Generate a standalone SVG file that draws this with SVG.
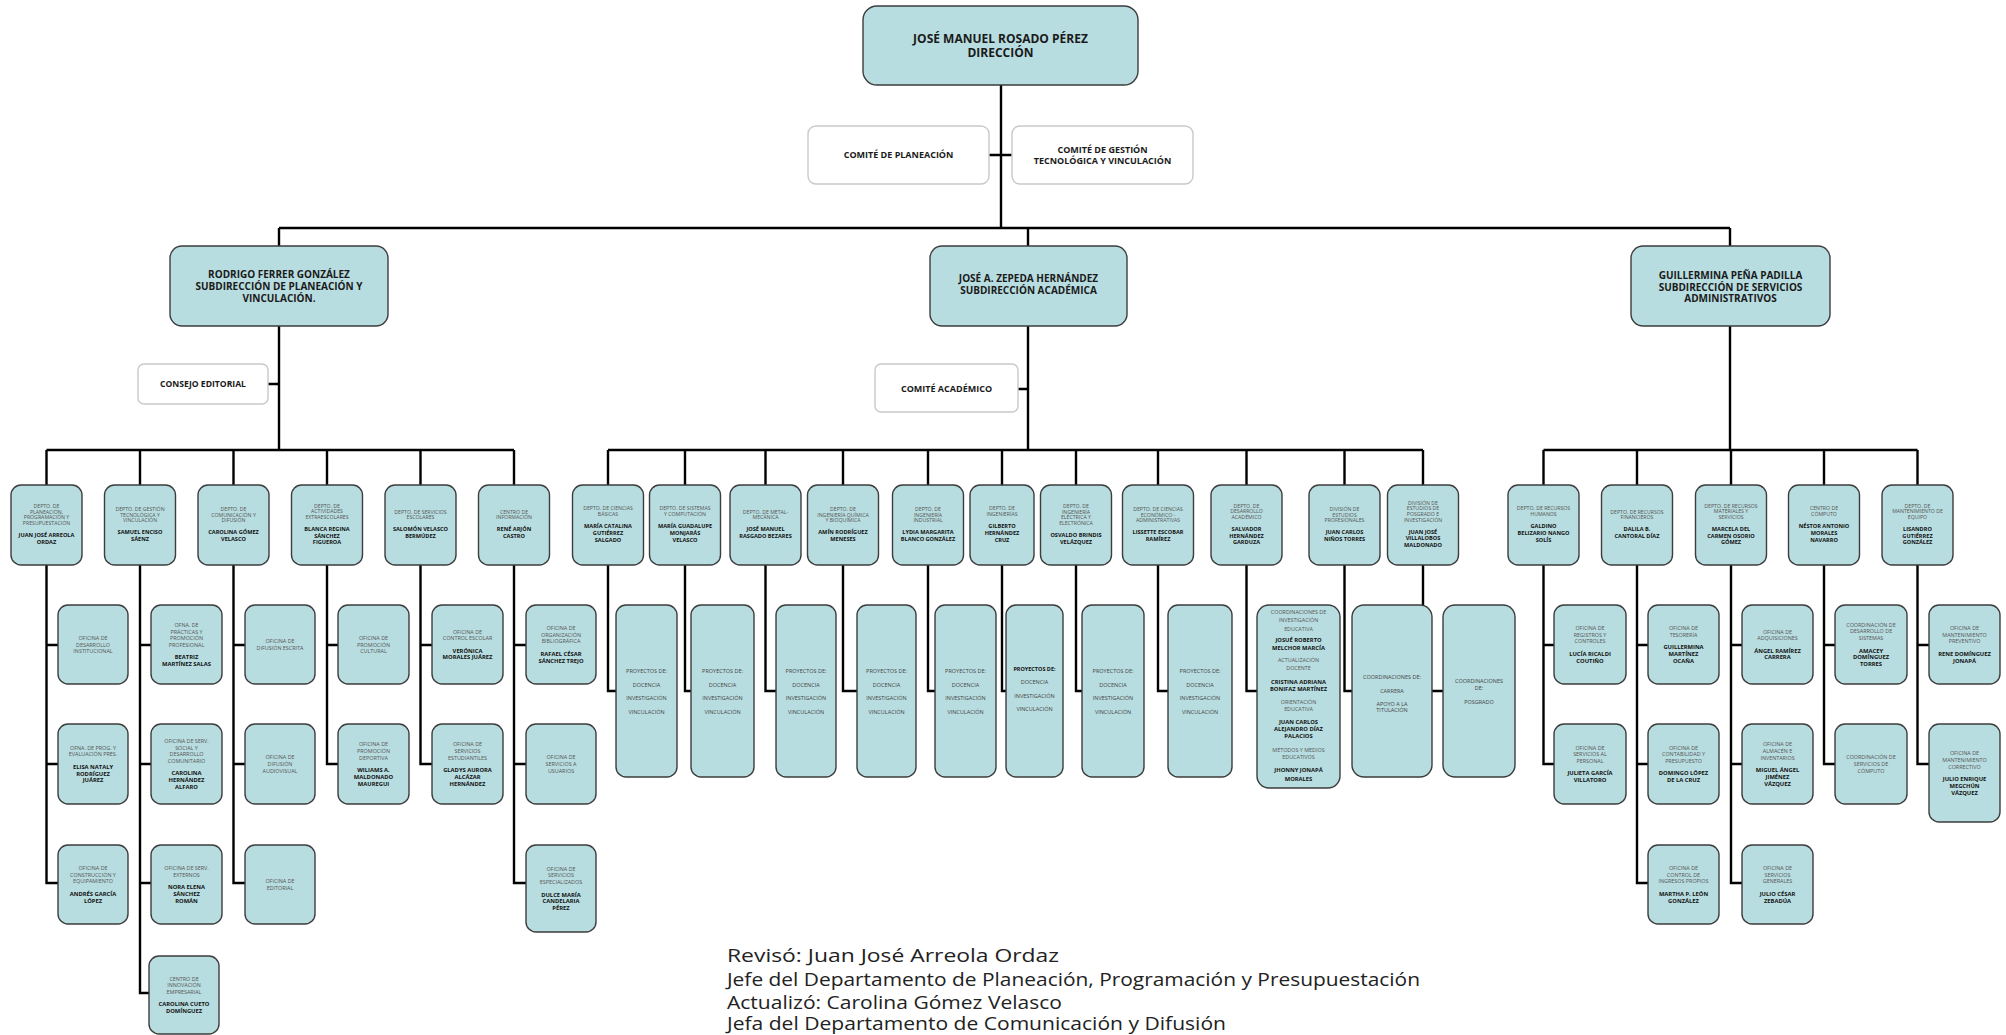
<svg xmlns="http://www.w3.org/2000/svg" width="2006" height="1035" viewBox="0 0 2006 1035">
<style>
.b{fill:#b8dde0;stroke:#3d3d3d;stroke-width:1.4}
.w{fill:#fff;stroke:#c9c9c9;stroke-width:1.4}
.k{fill:none;stroke:#000;stroke-width:2.4}
text{font-family:'Open Sans','Liberation Sans',sans-serif;text-anchor:middle}
.h{font-weight:700;fill:#1a1a1a}
.t{font-size:5.2px;fill:#555}
.n{font-size:5.6px;font-weight:700;fill:#111}
.s{font-size:5.4px;fill:#555}
.m{font-size:5.8px;font-weight:700;fill:#111}
.p{font-size:5.5px;fill:#444}
.f{font-size:18px;fill:#222;text-anchor:start}
</style>
<rect width="2006" height="1035" fill="#fff"/>
<g id="connectors" class="k">
<path d="M1001 85V228M989 155H1012M279 228H1730M279 228V246M1028 228V246M1730 228V246"/>
<path d="M279 326V450M268 384H279M1028 326V450M1018 389H1028M1730 326V450"/>
<path d="M46.5 450H514M46.5 450V485M140 450V485M233.5 450V485M327 450V485M420.5 450V485M514 450V485"/>
<path d="M608 450H1423M608 450V485M685 450V485M765.5 450V485M843 450V485M928 450V485M1002 450V485M1076 450V485M1158 450V485M1246.5 450V485M1344.5 450V485M1423 450V485"/>
<path d="M1543.5 450H1917.5M1543.5 450V485M1637 450V485M1731 450V485M1824 450V485M1917.5 450V485"/>
<path d="M46.5 565V883H58M46.5 645H58M46.5 764H58"/>
<path d="M140 565V993H149M140 645H151M140 764H151M140 883H151"/>
<path d="M233.5 565V883H245M233.5 645H245M233.5 764H245"/>
<path d="M327 565V764H338M327 645H338"/>
<path d="M420.5 565V764H432M420.5 645H432"/>
<path d="M514 565V883H526M514 645H526M514 764H526"/>
<path d="M608 565V691H616M685 565V691H691M765.5 565V691H776M843 565V691H857M928 565V691H935M1002 565V691H1006M1076 565V691H1082M1158 565V691H1168M1246.5 565V691H1257M1344.5 565V691H1352M1423 565V691H1443"/>
<path d="M1543.5 565V764H1554M1543.5 645H1554"/>
<path d="M1637 565V883H1648M1637 645H1648M1637 764H1648"/>
<path d="M1731 565V883H1742M1731 645H1742M1731 764H1742"/>
<path d="M1824 565V764H1835M1824 645H1835"/>
<path d="M1917.5 565V764H1929M1917.5 645H1929"/>
</g>

<g id="direccion"><rect class="b" x="863" y="6" width="275" height="79" rx="14"/>
<text class="h" font-size="12" x="1000.5" y="43"><tspan x="1000.5">JOSÉ MANUEL ROSADO PÉREZ</tspan><tspan x="1000.5" dy="14">DIRECCIÓN</tspan></text></g>
<g id="comite-planeacion"><rect class="w" x="808" y="126" width="181" height="58" rx="8"/>
<text class="h" font-size="9" x="898.5" y="158">COMITÉ DE PLANEACIÓN</text></g>
<g id="comite-gestion"><rect class="w" x="1012" y="126" width="181" height="58" rx="8"/>
<text class="h" font-size="9" x="1102.5" y="152.5"><tspan x="1102.5">COMITÉ DE GESTIÓN</tspan><tspan x="1102.5" dy="11.5">TECNOLÓGICA Y VINCULACIÓN</tspan></text></g>

<g id="sub-planeacion"><rect class="b" x="170" y="246" width="218" height="80" rx="12"/>
<text class="h" font-size="10" x="279" y="278"><tspan x="279">RODRIGO FERRER GONZÁLEZ</tspan><tspan x="279" dy="12">SUBDIRECCIÓN DE PLANEACIÓN Y</tspan><tspan x="279" dy="12">VINCULACIÓN.</tspan></text></g>
<g id="sub-academica"><rect class="b" x="930" y="246" width="197" height="80" rx="12"/>
<text class="h" font-size="10" x="1028.5" y="282"><tspan x="1028.5">JOSÉ A. ZEPEDA HERNÁNDEZ</tspan><tspan x="1028.5" dy="12">SUBDIRECCIÓN ACADÉMICA</tspan></text></g>
<g id="sub-administrativa"><rect class="b" x="1631" y="246" width="199" height="80" rx="12"/>
<text class="h" font-size="10" x="1730.5" y="279"><tspan x="1730.5">GUILLERMINA PEÑA PADILLA</tspan><tspan x="1730.5" dy="11.5">SUBDIRECCIÓN DE SERVICIOS</tspan><tspan x="1730.5" dy="11.5">ADMINISTRATIVOS</tspan></text></g>
<g id="consejo-editorial"><rect class="w" x="138" y="364" width="130" height="40" rx="6"/>
<text class="h" font-size="8.6" x="203" y="387">CONSEJO EDITORIAL</text></g>
<g id="comite-academico"><rect class="w" x="875" y="364" width="143" height="48" rx="6"/>
<text class="h" font-size="9" x="946.5" y="392">COMITÉ ACADÉMICO</text></g>

<!-- Departments left -->
<g id="d-planeacion"><rect class="b" x="11" y="485" width="71" height="80" rx="10"/>
<text class="t" x="46.5" y="508.1"><tspan x="46.5">DEPTO. DE</tspan><tspan x="46.5" dy="5.6">PLANEACIÓN,</tspan><tspan x="46.5" dy="5.6">PROGRAMACIÓN Y</tspan><tspan x="46.5" dy="5.6">PRESUPUESTACIÓN</tspan></text>
<text class="n" x="46.5" y="537"><tspan x="46.5">JUAN JOSÉ ARREOLA</tspan><tspan x="46.5" dy="6.8">ORDAZ</tspan></text></g>
<g id="d-gestion"><rect class="b" x="104.5" y="485" width="71" height="80" rx="10"/>
<text class="t" x="140" y="510.9"><tspan x="140">DEPTO. DE GESTIÓN</tspan><tspan x="140" dy="5.6">TECNOLÓGICA Y</tspan><tspan x="140" dy="5.6">VINCULACIÓN</tspan></text>
<text class="n" x="140" y="534.2"><tspan x="140">SAMUEL ENCISO</tspan><tspan x="140" dy="6.8">SÁENZ</tspan></text></g>
<g id="d-comunicacion"><rect class="b" x="198" y="485" width="71" height="80" rx="10"/>
<text class="t" x="233.5" y="510.9"><tspan x="233.5">DEPTO. DE</tspan><tspan x="233.5" dy="5.6">COMUNICACIÓN Y</tspan><tspan x="233.5" dy="5.6">DIFUSIÓN</tspan></text>
<text class="n" x="233.5" y="534.2"><tspan x="233.5">CAROLINA GÓMEZ</tspan><tspan x="233.5" dy="6.8">VELASCO</tspan></text></g>
<g id="d-extraescolares"><rect class="b" x="291.5" y="485" width="71" height="80" rx="10"/>
<text class="t" x="327" y="507.5"><tspan x="327">DEPTO. DE</tspan><tspan x="327" dy="5.6">ACTIVIDADES</tspan><tspan x="327" dy="5.6">EXTRAESCOLARES</tspan></text>
<text class="n" x="327" y="530.8"><tspan x="327">BLANCA REGINA</tspan><tspan x="327" dy="6.8">SÁNCHEZ</tspan><tspan x="327" dy="6.8">FIGUEROA</tspan></text></g>
<g id="d-escolares"><rect class="b" x="385" y="485" width="71" height="80" rx="10"/>
<text class="t" x="420.5" y="513.7"><tspan x="420.5">DEPTO. DE SERVICIOS</tspan><tspan x="420.5" dy="5.6">ESCOLARES</tspan></text>
<text class="n" x="420.5" y="531.4"><tspan x="420.5">SALOMÓN VELASCO</tspan><tspan x="420.5" dy="6.8">BERMÚDEZ</tspan></text></g>
<g id="d-informacion"><rect class="b" x="478.5" y="485" width="71" height="80" rx="10"/>
<text class="t" x="514" y="513.7"><tspan x="514">CENTRO DE</tspan><tspan x="514" dy="5.6">INFORMACIÓN</tspan></text>
<text class="n" x="514" y="531.4"><tspan x="514">RENÉ ARJÓN</tspan><tspan x="514" dy="6.8">CASTRO</tspan></text></g>

<!-- Departments middle -->
<g id="d-basicas"><rect class="b" x="572.5" y="485" width="71" height="80" rx="10"/>
<text class="t" x="608" y="510.3"><tspan x="608">DEPTO. DE CIENCIAS</tspan><tspan x="608" dy="5.6">BÁSICAS</tspan></text>
<text class="n" x="608" y="528"><tspan x="608">MARÍA CATALINA</tspan><tspan x="608" dy="6.8">GUTIÉRREZ</tspan><tspan x="608" dy="6.8">SALGADO</tspan></text></g>
<g id="d-sistemas"><rect class="b" x="649.5" y="485" width="71" height="80" rx="10"/>
<text class="t" x="685" y="510.3"><tspan x="685">DEPTO. DE SISTEMAS</tspan><tspan x="685" dy="5.6">Y COMPUTACIÓN</tspan></text>
<text class="n" x="685" y="528"><tspan x="685">MARÍA GUADALUPE</tspan><tspan x="685" dy="6.8">MONJARÁS</tspan><tspan x="685" dy="6.8">VELASCO</tspan></text></g>
<g id="d-metal"><rect class="b" x="730" y="485" width="71" height="80" rx="10"/>
<text class="t" x="765.5" y="513.7"><tspan x="765.5">DEPTO. DE METAL-</tspan><tspan x="765.5" dy="5.6">MECÁNICA</tspan></text>
<text class="n" x="765.5" y="531.4"><tspan x="765.5">JOSÉ MANUEL</tspan><tspan x="765.5" dy="6.8">RASGADO BEZARES</tspan></text></g>
<g id="d-quimica"><rect class="b" x="807.5" y="485" width="71" height="80" rx="10"/>
<text class="t" x="843" y="510.9"><tspan x="843">DEPTO. DE</tspan><tspan x="843" dy="5.6">INGENIERÍA QUÍMICA</tspan><tspan x="843" dy="5.6">Y BIOQUÍMICA</tspan></text>
<text class="n" x="843" y="534.2"><tspan x="843">AMÍN RODRÍGUEZ</tspan><tspan x="843" dy="6.8">MENESES</tspan></text></g>
<g id="d-industrial"><rect class="b" x="892.5" y="485" width="71" height="80" rx="10"/>
<text class="t" x="928" y="510.9"><tspan x="928">DEPTO. DE</tspan><tspan x="928" dy="5.6">INGENIERÍA</tspan><tspan x="928" dy="5.6">INDUSTRIAL</tspan></text>
<text class="n" x="928" y="534.2"><tspan x="928">LYDIA MARGARITA</tspan><tspan x="928" dy="6.8">BLANCO GONZÁLEZ</tspan></text></g>
<g id="d-ingenierias"><rect class="b" x="970" y="485" width="64" height="80" rx="10"/>
<text class="t" x="1002" y="510.3"><tspan x="1002">DEPTO. DE</tspan><tspan x="1002" dy="5.6">INGENIERÍAS</tspan></text>
<text class="n" x="1002" y="528"><tspan x="1002">GILBERTO</tspan><tspan x="1002" dy="6.8">HERNÁNDEZ</tspan><tspan x="1002" dy="6.8">CRUZ</tspan></text></g>
<g id="d-electrica"><rect class="b" x="1040.5" y="485" width="71" height="80" rx="10"/>
<text class="t" x="1076" y="508.1"><tspan x="1076">DEPTO. DE</tspan><tspan x="1076" dy="5.6">INGENIERÍA</tspan><tspan x="1076" dy="5.6">ELÉCTRICA Y</tspan><tspan x="1076" dy="5.6">ELECTRÓNICA</tspan></text>
<text class="n" x="1076" y="537"><tspan x="1076">OSVALDO BRINDIS</tspan><tspan x="1076" dy="6.8">VELÁZQUEZ</tspan></text></g>
<g id="d-economico"><rect class="b" x="1122.5" y="485" width="71" height="80" rx="10"/>
<text class="t" x="1158" y="510.9"><tspan x="1158">DEPTO. DE CIENCIAS</tspan><tspan x="1158" dy="5.6">ECONÓMICO -</tspan><tspan x="1158" dy="5.6">ADMINISTRATIVAS</tspan></text>
<text class="n" x="1158" y="534.2"><tspan x="1158">LISSETTE ESCOBAR</tspan><tspan x="1158" dy="6.8">RAMÍREZ</tspan></text></g>
<g id="d-desarrollo"><rect class="b" x="1211" y="485" width="71" height="80" rx="10"/>
<text class="t" x="1246.5" y="507.5"><tspan x="1246.5">DEPTO. DE</tspan><tspan x="1246.5" dy="5.6">DESARROLLO</tspan><tspan x="1246.5" dy="5.6">ACADÉMICO</tspan></text>
<text class="n" x="1246.5" y="530.8"><tspan x="1246.5">SALVADOR</tspan><tspan x="1246.5" dy="6.8">HERNÁNDEZ</tspan><tspan x="1246.5" dy="6.8">GARDUZA</tspan></text></g>
<g id="d-profesionales"><rect class="b" x="1309" y="485" width="71" height="80" rx="10"/>
<text class="t" x="1344.5" y="510.9"><tspan x="1344.5">DIVISIÓN DE</tspan><tspan x="1344.5" dy="5.6">ESTUDIOS</tspan><tspan x="1344.5" dy="5.6">PROFESIONALES</tspan></text>
<text class="n" x="1344.5" y="534.2"><tspan x="1344.5">JUAN CARLOS</tspan><tspan x="1344.5" dy="6.8">NIÑOS TORRES</tspan></text></g>
<g id="d-posgrado"><rect class="b" x="1387.5" y="485" width="71" height="80" rx="10"/>
<text class="t" x="1423" y="504.7"><tspan x="1423">DIVISIÓN DE</tspan><tspan x="1423" dy="5.6">ESTUDIOS DE</tspan><tspan x="1423" dy="5.6">POSGRADO E</tspan><tspan x="1423" dy="5.6">INVESTIGACIÓN</tspan></text>
<text class="n" x="1423" y="533.6"><tspan x="1423">JUAN JOSÉ</tspan><tspan x="1423" dy="6.8">VILLALOBOS</tspan><tspan x="1423" dy="6.8">MALDONADO</tspan></text></g>

<!-- Departments right -->
<g id="d-humanos"><rect class="b" x="1508" y="485" width="71" height="80" rx="10"/>
<text class="t" x="1543.5" y="510.3"><tspan x="1543.5">DEPTO. DE RECURSOS</tspan><tspan x="1543.5" dy="5.6">HUMANOS</tspan></text>
<text class="n" x="1543.5" y="528"><tspan x="1543.5">GALDINO</tspan><tspan x="1543.5" dy="6.8">BELIZARIO NANGO</tspan><tspan x="1543.5" dy="6.8">SOLÍS</tspan></text></g>
<g id="d-financieros"><rect class="b" x="1601.5" y="485" width="71" height="80" rx="10"/>
<text class="t" x="1637" y="513.7"><tspan x="1637">DEPTO. DE RECURSOS</tspan><tspan x="1637" dy="5.6">FINANCIEROS</tspan></text>
<text class="n" x="1637" y="531.4"><tspan x="1637">DALILA B.</tspan><tspan x="1637" dy="6.8">CANTORAL DÍAZ</tspan></text></g>
<g id="d-materiales"><rect class="b" x="1695.5" y="485" width="71" height="80" rx="10"/>
<text class="t" x="1731" y="507.5"><tspan x="1731">DEPTO. DE RECURSOS</tspan><tspan x="1731" dy="5.6">MATERIALES Y</tspan><tspan x="1731" dy="5.6">SERVICIOS</tspan></text>
<text class="n" x="1731" y="530.8"><tspan x="1731">MARCELA DEL</tspan><tspan x="1731" dy="6.8">CARMEN OSORIO</tspan><tspan x="1731" dy="6.8">GÓMEZ</tspan></text></g>
<g id="d-computo"><rect class="b" x="1788.5" y="485" width="71" height="80" rx="10"/>
<text class="t" x="1824" y="510.3"><tspan x="1824">CENTRO DE</tspan><tspan x="1824" dy="5.6">CÓMPUTO</tspan></text>
<text class="n" x="1824" y="528"><tspan x="1824">NÉSTOR ANTONIO</tspan><tspan x="1824" dy="6.8">MORALES</tspan><tspan x="1824" dy="6.8">NAVARRO</tspan></text></g>
<g id="d-mantenimiento"><rect class="b" x="1882" y="485" width="71" height="80" rx="10"/>
<text class="t" x="1917.5" y="507.5"><tspan x="1917.5">DEPTO. DE</tspan><tspan x="1917.5" dy="5.6">MANTENIMIENTO DE</tspan><tspan x="1917.5" dy="5.6">EQUIPO</tspan></text>
<text class="n" x="1917.5" y="530.8"><tspan x="1917.5">LISANDRO</tspan><tspan x="1917.5" dy="6.8">GUTIÉRREZ</tspan><tspan x="1917.5" dy="6.8">GONZÁLEZ</tspan></text></g>

<!-- Offices left -->
<g id="o-desarrollo-inst"><rect class="b" x="58" y="605" width="70" height="79" rx="10"/>
<text class="s" x="93" y="639.9"><tspan x="93">OFICINA DE</tspan><tspan x="93" dy="6.6">DESARROLLO</tspan><tspan x="93" dy="6.6">INSTITUCIONAL</tspan></text></g>
<g id="o-prog-eval"><rect class="b" x="58" y="724" width="70" height="80" rx="10"/>
<text class="s" x="93" y="749.65"><tspan x="93">OFNA. DE PROG. Y</tspan><tspan x="93" dy="6.6">EVALUACIÓN PRES.</tspan></text>
<text class="m" x="93" y="768.75"><tspan x="93">ELISA NATALY</tspan><tspan x="93" dy="6.8">RODRÍGUEZ</tspan><tspan x="93" dy="6.8">JUÁREZ</tspan></text></g>
<g id="o-construccion"><rect class="b" x="58" y="845" width="70" height="79" rx="10"/>
<text class="s" x="93" y="870.25"><tspan x="93">OFICINA DE</tspan><tspan x="93" dy="6.6">CONSTRUCCIÓN Y</tspan><tspan x="93" dy="6.6">EQUIPAMIENTO</tspan></text>
<text class="m" x="93" y="895.95"><tspan x="93">ANDRÉS GARCÍA</tspan><tspan x="93" dy="6.8">LÓPEZ</tspan></text></g>

<g id="o-practicas"><rect class="b" x="151" y="605" width="71" height="79" rx="10"/>
<text class="s" x="186.5" y="626.95"><tspan x="186.5">OFNA. DE</tspan><tspan x="186.5" dy="6.6">PRÁCTICAS Y</tspan><tspan x="186.5" dy="6.6">PROMOCIÓN</tspan><tspan x="186.5" dy="6.6">PROFESIONAL</tspan></text>
<text class="m" x="186.5" y="659.25"><tspan x="186.5">BEATRIZ</tspan><tspan x="186.5" dy="6.8">MARTÍNEZ SALAS</tspan></text></g>
<g id="o-serv-social"><rect class="b" x="151" y="724" width="71" height="80" rx="10"/>
<text class="s" x="186.5" y="743.05"><tspan x="186.5">OFICINA DE SERV.</tspan><tspan x="186.5" dy="6.6">SOCIAL Y</tspan><tspan x="186.5" dy="6.6">DESARROLLO</tspan><tspan x="186.5" dy="6.6">COMUNITARIO</tspan></text>
<text class="m" x="186.5" y="775.35"><tspan x="186.5">CAROLINA</tspan><tspan x="186.5" dy="6.8">HERNÁNDEZ</tspan><tspan x="186.5" dy="6.8">ALFARO</tspan></text></g>
<g id="o-serv-externos"><rect class="b" x="151" y="845" width="71" height="79" rx="10"/>
<text class="s" x="186.5" y="870.15"><tspan x="186.5">OFICINA DE SERV.</tspan><tspan x="186.5" dy="6.6">EXTERNOS</tspan></text>
<text class="m" x="186.5" y="889.25"><tspan x="186.5">NORA ELENA</tspan><tspan x="186.5" dy="6.8">SÁNCHEZ</tspan><tspan x="186.5" dy="6.8">ROMÁN</tspan></text></g>
<g id="o-innovacion"><rect class="b" x="149" y="956" width="70" height="78" rx="10"/>
<text class="s" x="184" y="980.75"><tspan x="184">CENTRO DE</tspan><tspan x="184" dy="6.6">INNOVACIÓN</tspan><tspan x="184" dy="6.6">EMPRESARIAL</tspan></text>
<text class="m" x="184" y="1006.45"><tspan x="184">CAROLINA CUETO</tspan><tspan x="184" dy="6.8">DOMÍNGUEZ</tspan></text></g>

<g id="o-difusion-escrita"><rect class="b" x="245" y="605" width="70" height="79" rx="10"/>
<text class="s" x="280" y="643.2"><tspan x="280">OFICINA DE</tspan><tspan x="280" dy="6.6">DIFUSIÓN ESCRITA</tspan></text></g>
<g id="o-audiovisual"><rect class="b" x="245" y="724" width="70" height="80" rx="10"/>
<text class="s" x="280" y="759.4"><tspan x="280">OFICINA DE</tspan><tspan x="280" dy="6.6">DIFUSIÓN</tspan><tspan x="280" dy="6.6">AUDIOVISUAL</tspan></text></g>
<g id="o-editorial"><rect class="b" x="245" y="845" width="70" height="79" rx="10"/>
<text class="s" x="280" y="883.2"><tspan x="280">OFICINA DE</tspan><tspan x="280" dy="6.6">EDITORIAL</tspan></text></g>

<g id="o-cultural"><rect class="b" x="338" y="605" width="71" height="79" rx="10"/>
<text class="s" x="373.5" y="639.9"><tspan x="373.5">OFICINA DE</tspan><tspan x="373.5" dy="6.6">PROMOCIÓN</tspan><tspan x="373.5" dy="6.6">CULTURAL</tspan></text></g>
<g id="o-deportiva"><rect class="b" x="338" y="724" width="71" height="80" rx="10"/>
<text class="s" x="373.5" y="746.35"><tspan x="373.5">OFICINA DE</tspan><tspan x="373.5" dy="6.6">PROMOCIÓN</tspan><tspan x="373.5" dy="6.6">DEPORTIVA</tspan></text>
<text class="m" x="373.5" y="772.05"><tspan x="373.5">WILIAMS A.</tspan><tspan x="373.5" dy="6.8">MALDONADO</tspan><tspan x="373.5" dy="6.8">MAUREGUI</tspan></text></g>

<g id="o-control-escolar"><rect class="b" x="432" y="605" width="71" height="79" rx="10"/>
<text class="s" x="467.5" y="633.55"><tspan x="467.5">OFICINA DE</tspan><tspan x="467.5" dy="6.6">CONTROL ESCOLAR</tspan></text>
<text class="m" x="467.5" y="652.65"><tspan x="467.5">VERÓNICA</tspan><tspan x="467.5" dy="6.8">MORALES JUÁREZ</tspan></text></g>
<g id="o-estudiantiles"><rect class="b" x="432" y="724" width="71" height="80" rx="10"/>
<text class="s" x="467.5" y="746.35"><tspan x="467.5">OFICINA DE</tspan><tspan x="467.5" dy="6.6">SERVICIOS</tspan><tspan x="467.5" dy="6.6">ESTUDIANTILES</tspan></text>
<text class="m" x="467.5" y="772.05"><tspan x="467.5">GLADYS AURORA</tspan><tspan x="467.5" dy="6.8">ALCÁZAR</tspan><tspan x="467.5" dy="6.8">HERNÁNDEZ</tspan></text></g>

<g id="o-bibliografica"><rect class="b" x="526" y="605" width="70" height="79" rx="10"/>
<text class="s" x="561" y="630.25"><tspan x="561">OFICINA DE</tspan><tspan x="561" dy="6.6">ORGANIZACIÓN</tspan><tspan x="561" dy="6.6">BIBLIOGRÁFICA</tspan></text>
<text class="m" x="561" y="655.95"><tspan x="561">RAFAEL CÉSAR</tspan><tspan x="561" dy="6.8">SÁNCHEZ TREJO</tspan></text></g>
<g id="o-usuarios"><rect class="b" x="526" y="724" width="70" height="80" rx="10"/>
<text class="s" x="561" y="759.4"><tspan x="561">OFICINA DE</tspan><tspan x="561" dy="6.6">SERVICIOS A</tspan><tspan x="561" dy="6.6">USUARIOS</tspan></text></g>
<g id="o-especializados"><rect class="b" x="526" y="845" width="70" height="87" rx="10"/>
<text class="s" x="561" y="870.85"><tspan x="561">OFICINA DE</tspan><tspan x="561" dy="6.6">SERVICIOS</tspan><tspan x="561" dy="6.6">ESPECIALIZADOS</tspan></text>
<text class="m" x="561" y="896.55"><tspan x="561">DULCE MARÍA</tspan><tspan x="561" dy="6.8">CANDELARIA</tspan><tspan x="561" dy="6.8">PÉREZ</tspan></text></g>

<!-- Middle projects -->
<g id="p-basicas"><rect class="b" x="616" y="605" width="61" height="172" rx="10"/>
<text class="p" x="646.5" y="673"><tspan x="646.5">PROYECTOS DE:</tspan><tspan x="646.5" dy="13.6">DOCENCIA</tspan><tspan x="646.5" dy="13.6">INVESTIGACIÓN</tspan><tspan x="646.5" dy="13.6">VINCULACIÓN</tspan></text></g>
<g id="p-sistemas"><rect class="b" x="691" y="605" width="63" height="172" rx="10"/>
<text class="p" x="722.5" y="673"><tspan x="722.5">PROYECTOS DE:</tspan><tspan x="722.5" dy="13.6">DOCENCIA</tspan><tspan x="722.5" dy="13.6">INVESTIGACIÓN</tspan><tspan x="722.5" dy="13.6">VINCULACIÓN</tspan></text></g>
<g id="p-metal"><rect class="b" x="776" y="605" width="60" height="172" rx="10"/>
<text class="p" x="806" y="673"><tspan x="806">PROYECTOS DE:</tspan><tspan x="806" dy="13.6">DOCENCIA</tspan><tspan x="806" dy="13.6">INVESTIGACIÓN</tspan><tspan x="806" dy="13.6">VINCULACIÓN</tspan></text></g>
<g id="p-quimica"><rect class="b" x="857" y="605" width="59" height="172" rx="10"/>
<text class="p" x="886.5" y="673"><tspan x="886.5">PROYECTOS DE:</tspan><tspan x="886.5" dy="13.6">DOCENCIA</tspan><tspan x="886.5" dy="13.6">INVESTIGACIÓN</tspan><tspan x="886.5" dy="13.6">VINCULACIÓN</tspan></text></g>
<g id="p-industrial"><rect class="b" x="935" y="605" width="61" height="172" rx="10"/>
<text class="p" x="965.5" y="673"><tspan x="965.5">PROYECTOS DE:</tspan><tspan x="965.5" dy="13.6">DOCENCIA</tspan><tspan x="965.5" dy="13.6">INVESTIGACIÓN</tspan><tspan x="965.5" dy="13.6">VINCULACIÓN</tspan></text></g>
<g id="p-ingenierias"><rect class="b" x="1006" y="605" width="57" height="172" rx="10"/>
<text class="p" font-size="4.4" x="1034.5" y="671"><tspan x="1034.5" font-weight="700" fill="#111">PROYECTOS DE:</tspan><tspan x="1034.5" dy="13.3">DOCENCIA</tspan><tspan x="1034.5" dy="13.3">INVESTIGACIÓN</tspan><tspan x="1034.5" dy="13.3">VINCULACIÓN</tspan></text></g>
<g id="p-electrica"><rect class="b" x="1082" y="605" width="62" height="172" rx="10"/>
<text class="p" x="1113" y="673"><tspan x="1113">PROYECTOS DE:</tspan><tspan x="1113" dy="13.6">DOCENCIA</tspan><tspan x="1113" dy="13.6">INVESTIGACIÓN</tspan><tspan x="1113" dy="13.6">VINCULACIÓN</tspan></text></g>
<g id="p-economico"><rect class="b" x="1168" y="605" width="64" height="172" rx="10"/>
<text class="p" x="1200" y="673"><tspan x="1200">PROYECTOS DE:</tspan><tspan x="1200" dy="13.6">DOCENCIA</tspan><tspan x="1200" dy="13.6">INVESTIGACIÓN</tspan><tspan x="1200" dy="13.6">VINCULACIÓN</tspan></text></g>
<g id="c-desarrollo"><rect class="b" x="1257" y="605" width="83" height="183" rx="12"/>
<text class="s" font-size="5.6" x="1298.5" y="614"><tspan x="1298.5">COORDINACIONES DE</tspan><tspan x="1298.5" dy="8">INVESTIGACIÓN</tspan><tspan x="1298.5" dy="9">EDUCATIVA</tspan></text>
<text class="m" font-size="5.8" x="1298.5" y="642"><tspan x="1298.5">JOSUÉ ROBERTO</tspan><tspan x="1298.5" dy="8">MELCHOR MARCÍA</tspan></text>
<text class="s" font-size="5.6" x="1298.5" y="662"><tspan x="1298.5">ACTUALIZACIÓN</tspan><tspan x="1298.5" dy="8">DOCENTE</tspan></text>
<text class="m" font-size="5.8" x="1298.5" y="684"><tspan x="1298.5">CRISTINA ADRIANA</tspan><tspan x="1298.5" dy="7">BONIFAZ MARTÍNEZ</tspan></text>
<text class="s" font-size="5.6" x="1298.5" y="704"><tspan x="1298.5">ORIENTACIÓN</tspan><tspan x="1298.5" dy="7">EDUCATIVA</tspan></text>
<text class="m" font-size="5.8" x="1298.5" y="724"><tspan x="1298.5">JUAN CARLOS</tspan><tspan x="1298.5" dy="7">ALEJANDRO DÍAZ</tspan><tspan x="1298.5" dy="7">PALACIOS</tspan></text>
<text class="s" font-size="5.6" x="1298.5" y="752"><tspan x="1298.5">MÉTODOS Y MEDIOS</tspan><tspan x="1298.5" dy="7">EDUCATIVOS</tspan></text>
<text class="m" font-size="5.8" x="1298.5" y="772"><tspan x="1298.5">JHONNY JONAPÁ</tspan><tspan x="1298.5" dy="9">MORALES</tspan></text></g>
<g id="c-carrera"><rect class="b" x="1352" y="605" width="80" height="172" rx="12"/>
<text class="p" x="1392" y="679"><tspan x="1392">COORDINACIONES DE:</tspan><tspan x="1392" dy="14">CARRERA</tspan><tspan x="1392" dy="13">APOYO A LA</tspan><tspan x="1392" dy="6">TITULACIÓN</tspan></text></g>
<g id="c-posgrado"><rect class="b" x="1443" y="605" width="72" height="172" rx="12"/>
<text class="p" x="1479" y="683"><tspan x="1479">COORDINACIONES</tspan><tspan x="1479" dy="6.5">DE:</tspan><tspan x="1479" dy="14">POSGRADO</tspan></text></g>

<!-- Offices right -->
<g id="o-registros"><rect class="b" x="1554" y="605" width="72" height="79" rx="10"/>
<text class="s" x="1590" y="630.25"><tspan x="1590">OFICINA DE</tspan><tspan x="1590" dy="6.6">REGISTROS Y</tspan><tspan x="1590" dy="6.6">CONTROLES</tspan></text>
<text class="m" x="1590" y="655.95"><tspan x="1590">LUCÍA RICALDI</tspan><tspan x="1590" dy="6.8">COUTIÑO</tspan></text></g>
<g id="o-personal"><rect class="b" x="1554" y="724" width="72" height="80" rx="10"/>
<text class="s" x="1590" y="749.75"><tspan x="1590">OFICINA DE</tspan><tspan x="1590" dy="6.6">SERVICIOS AL</tspan><tspan x="1590" dy="6.6">PERSONAL</tspan></text>
<text class="m" x="1590" y="775.45"><tspan x="1590">JULIETA GARCÍA</tspan><tspan x="1590" dy="6.8">VILLATORO</tspan></text></g>
<g id="o-tesoreria"><rect class="b" x="1648" y="605" width="71" height="79" rx="10"/>
<text class="s" x="1683.5" y="630.15"><tspan x="1683.5">OFICINA DE</tspan><tspan x="1683.5" dy="6.6">TESORERÍA</tspan></text>
<text class="m" x="1683.5" y="649.25"><tspan x="1683.5">GUILLERMINA</tspan><tspan x="1683.5" dy="6.8">MARTÍNEZ</tspan><tspan x="1683.5" dy="6.8">OCAÑA</tspan></text></g>
<g id="o-contabilidad"><rect class="b" x="1648" y="724" width="71" height="80" rx="10"/>
<text class="s" x="1683.5" y="749.75"><tspan x="1683.5">OFICINA DE</tspan><tspan x="1683.5" dy="6.6">CONTABILIDAD Y</tspan><tspan x="1683.5" dy="6.6">PRESUPUESTO</tspan></text>
<text class="m" x="1683.5" y="775.45"><tspan x="1683.5">DOMINGO LÓPEZ</tspan><tspan x="1683.5" dy="6.8">DE LA CRUZ</tspan></text></g>
<g id="o-ingresos"><rect class="b" x="1648" y="845" width="71" height="79" rx="10"/>
<text class="s" x="1683.5" y="870.25"><tspan x="1683.5">OFICINA DE</tspan><tspan x="1683.5" dy="6.6">CONTROL DE</tspan><tspan x="1683.5" dy="6.6">INGRESOS PROPIOS</tspan></text>
<text class="m" x="1683.5" y="895.95"><tspan x="1683.5">MARTHA P. LEÓN</tspan><tspan x="1683.5" dy="6.8">GONZÁLEZ</tspan></text></g>
<g id="o-adquisiciones"><rect class="b" x="1742" y="605" width="71" height="79" rx="10"/>
<text class="s" x="1777.5" y="633.55"><tspan x="1777.5">OFICINA DE</tspan><tspan x="1777.5" dy="6.6">ADQUISICIONES</tspan></text>
<text class="m" x="1777.5" y="652.65"><tspan x="1777.5">ÁNGEL RAMÍREZ</tspan><tspan x="1777.5" dy="6.8">CARRERA</tspan></text></g>
<g id="o-almacen"><rect class="b" x="1742" y="724" width="71" height="80" rx="10"/>
<text class="s" x="1777.5" y="746.35"><tspan x="1777.5">OFICINA DE</tspan><tspan x="1777.5" dy="6.6">ALMACÉN E</tspan><tspan x="1777.5" dy="6.6">INVENTARIOS</tspan></text>
<text class="m" x="1777.5" y="772.05"><tspan x="1777.5">MIGUEL ÁNGEL</tspan><tspan x="1777.5" dy="6.8">JIMÉNEZ</tspan><tspan x="1777.5" dy="6.8">VÁZQUEZ</tspan></text></g>
<g id="o-generales"><rect class="b" x="1742" y="845" width="71" height="79" rx="10"/>
<text class="s" x="1777.5" y="870.25"><tspan x="1777.5">OFICINA DE</tspan><tspan x="1777.5" dy="6.6">SERVICIOS</tspan><tspan x="1777.5" dy="6.6">GENERALES</tspan></text>
<text class="m" x="1777.5" y="895.95"><tspan x="1777.5">JULIO CÉSAR</tspan><tspan x="1777.5" dy="6.8">ZEBADÚA</tspan></text></g>
<g id="o-sistemas"><rect class="b" x="1835" y="605" width="72" height="79" rx="10"/>
<text class="s" x="1871" y="626.85"><tspan x="1871">COORDINACIÓN DE</tspan><tspan x="1871" dy="6.6">DESARROLLO DE</tspan><tspan x="1871" dy="6.6">SISTEMAS</tspan></text>
<text class="m" x="1871" y="652.55"><tspan x="1871">AMACEY</tspan><tspan x="1871" dy="6.8">DOMÍNGUEZ</tspan><tspan x="1871" dy="6.8">TORRES</tspan></text></g>
<g id="o-serv-computo"><rect class="b" x="1835" y="724" width="72" height="80" rx="10"/>
<text class="s" x="1871" y="759.4"><tspan x="1871">COORDINACIÓN DE</tspan><tspan x="1871" dy="6.6">SERVICIOS DE</tspan><tspan x="1871" dy="6.6">CÓMPUTO</tspan></text></g>
<g id="o-preventivo"><rect class="b" x="1929" y="605" width="71" height="79" rx="10"/>
<text class="s" x="1964.5" y="630.25"><tspan x="1964.5">OFICINA DE</tspan><tspan x="1964.5" dy="6.6">MANTENIMIENTO</tspan><tspan x="1964.5" dy="6.6">PREVENTIVO</tspan></text>
<text class="m" x="1964.5" y="655.95"><tspan x="1964.5">RENE DOMÍNGUEZ</tspan><tspan x="1964.5" dy="6.8">JONAPÁ</tspan></text></g>
<g id="o-correctivo"><rect class="b" x="1929" y="724" width="71" height="98" rx="10"/>
<text class="s" x="1964.5" y="755.35"><tspan x="1964.5">OFICINA DE</tspan><tspan x="1964.5" dy="6.6">MANTENIMIENTO</tspan><tspan x="1964.5" dy="6.6">CORRECTIVO</tspan></text>
<text class="m" x="1964.5" y="781.05"><tspan x="1964.5">JULIO ENRIQUE</tspan><tspan x="1964.5" dy="6.8">MEGCHÚN</tspan><tspan x="1964.5" dy="6.8">VÁZQUEZ</tspan></text></g>

<g id="footer">
<text class="f" x="727" y="962" textLength="332" lengthAdjust="spacingAndGlyphs">Revisó: Juan José Arreola Ordaz</text>
<text class="f" x="727" y="986" textLength="693" lengthAdjust="spacingAndGlyphs">Jefe del Departamento de Planeación, Programación y Presupuestación</text>
<text class="f" x="727" y="1009" textLength="335" lengthAdjust="spacingAndGlyphs">Actualizó: Carolina Gómez Velasco</text>
<text class="f" x="727" y="1030" textLength="499" lengthAdjust="spacingAndGlyphs">Jefa del Departamento de Comunicación y Difusión</text>
</g>
</svg>
